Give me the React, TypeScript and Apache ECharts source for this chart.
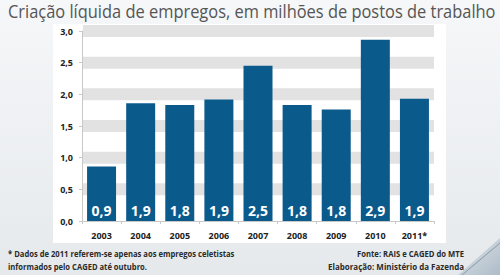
import React, { useEffect, useRef } from "react";
import * as echarts from "echarts";

// Net formal job creation per year, in millions
const years = ["2003", "2004", "2005", "2006", "2007", "2008", "2009", "2010", "2011*"];
const jobs = [0.86, 1.86, 1.83, 1.92, 2.45, 1.83, 1.76, 2.86, 1.93];
// levels that carry a shaded guide band
const bandLevels = [0.5, 1.0, 1.5, 2.0, 2.5, 3.0];

const titleText = "Criação líquida de empregos, em milhões de postos de trabalho";
const noteLines = [
  "* Dados de 2011 referem-se apenas aos empregos celetistas",
  "informados pelo CAGED até outubro.",
];
const sourceLines = ["Fonte: RAIS e CAGED do MTE", "Elaboração: Ministério da Fazenda"];

const BAR = "#0b5a8c";
const FONT = '"Open Sans", "Noto Sans", sans-serif';

const fmt = (v: number) => v.toFixed(1).replace(".", ",");

// horizontal squeeze so a string spans a given width
function fitScale(text: string, font: string, target: number): number {
  const c = document.createElement("canvas").getContext("2d");
  if (!c) return 1;
  c.font = font;
  const w = c.measureText(text).width;
  return w > 0 ? target / w : 1;
}

export default function App() {
  const ref = useRef<HTMLDivElement>(null);

  useEffect(() => {
    if (!ref.current) return;
    const chart = echarts.init(ref.current, undefined, { renderer: "svg" });

    const titleFont = `18px ${FONT}`;
    const footFont = `bold 9px ${FONT}`;

    const textEl = (
      text: string,
      x: number,
      y: number,
      font: string,
      width: number,
      fill: string,
      align: "left" | "right"
    ) => ({
      type: "text",
      x,
      y,
      scaleX: fitScale(text, font, width),
      silent: true,
      style: { text, font, fill, textAlign: align, textVerticalAlign: "middle" },
    });

    chart.setOption({
      animation: false,
      backgroundColor: "transparent",
      graphic: [
        {
          type: "polygon",
          silent: true,
          shape: { points: [[458, 275], [500, 238], [500, 275]] },
          style: {
            fill: new echarts.graphic.LinearGradient(0, 0, 1, 1, [
              { offset: 0, color: "#dfe5ea" },
              { offset: 1, color: "#aebcc8" },
            ]),
          },
        },
        {
          type: "line",
          silent: true,
          shape: { x1: 462, y1: 275, x2: 500, y2: 243 },
          style: { stroke: "#8899a8", lineWidth: 1 },
        },
        textEl(titleText, 8, 11, titleFont, 488, "#555555", "left"),
        textEl(noteLines[0], 8, 253, footFont, 227, "#2a2a2a", "left"),
        textEl(noteLines[1], 8, 266, footFont, 139, "#2a2a2a", "left"),
        textEl(sourceLines[0], 464, 253, footFont, 107, "#2a2a2a", "right"),
        textEl(sourceLines[1], 464, 266, footFont, 136, "#2a2a2a", "right"),
      ],
      grid: { left: 82, right: 66, top: 31, bottom: 54, containLabel: false },
      xAxis: {
        type: "category",
        data: years,
        axisLine: { lineStyle: { color: "#c8c8c8" } },
        axisTick: { show: true, length: 3, lineStyle: { color: "#c8c8c8" } },
        axisLabel: {
          color: "#222",
          fontSize: 9,
          fontWeight: "bold",
          fontFamily: FONT,
          margin: 10,
        },
        splitLine: { show: false },
      },
      yAxis: {
        type: "value",
        min: 0,
        max: 3,
        interval: 0.5,
        axisLine: { show: true, lineStyle: { color: "#c8c8c8" } },
        axisTick: { show: true, length: 3, lineStyle: { color: "#c8c8c8" } },
        axisLabel: {
          color: "#222",
          fontSize: 9,
          fontWeight: "bold",
          fontFamily: FONT,
          margin: 9,
          formatter: (v: number) => fmt(v),
        },
        splitLine: { show: false },
      },
      series: [
        {
          // wide pale guide bands behind the bars
          type: "custom",
          z: 1,
          silent: true,
          data: bandLevels.map((v) => [0, v]),
          encode: { x: 0, y: 1 },
          renderItem: (params: any, api: any) => {
            const cs = params.coordSys;
            const y = api.coord([api.value(0), api.value(1)])[1];
            return {
              type: "rect",
              shape: { x: cs.x + 1, y: y - 6, width: cs.width - 1, height: 12 },
              style: { fill: "#e2e2e2" },
            };
          },
        },
        {
          type: "bar",
          data: jobs,
          z: 3,
          barWidth: 29,
          itemStyle: { color: BAR },
          label: {
            show: true,
            position: "insideBottom",
            distance: 4,
            color: "#ffffff",
            fontSize: 14,
            fontWeight: "bold",
            fontFamily: FONT,
            formatter: (p: any) => fmt(p.value),
          },
        },
      ],
    });

    return () => chart.dispose();
  }, []);

  return (
    <div
      style={{
        position: "fixed",
        left: 0,
        top: 0,
        width: 500,
        height: 275,
        background: "linear-gradient(#f5f7f9, #e6e9ec)",
      }}
    >
      <div
        style={{
          position: "absolute",
          left: 53,
          top: 24,
          width: 393,
          height: 219,
          background: "#ffffff",
        }}
      />
      <div
        ref={ref}
        style={{ position: "absolute", left: 0, top: 0, width: 500, height: 275 }}
      />
    </div>
  );
}
